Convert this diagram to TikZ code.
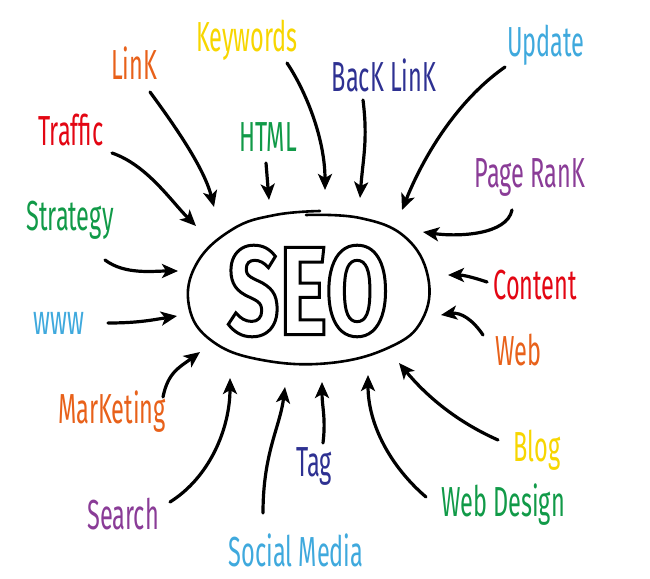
\documentclass[tikz,border=0pt]{standalone}
\usepackage{fontspec}
\usetikzlibrary{arrows.meta,positioning}
\newfontfamily\hand{Fira Sans}[FakeStretch=0.56]
\newfontfamily\seofont{Fira Sans}[FakeStretch=0.72]
\definecolor{seoorange}{HTML}{E8611A}
\definecolor{seoyellow}{HTML}{F7D600}
\definecolor{seonavy}{HTML}{2E3192}
\definecolor{seoblue}{HTML}{3FA9DD}
\definecolor{seored}{HTML}{E30613}
\definecolor{seogreen}{HTML}{119A48}
\definecolor{seopurple}{HTML}{8A3C97}
% hollow letters: stroke the glyph outlines only
\newcommand{\hollow}[1]{\special{pdf:literal direct q 1 Tr 3 w 0 G}#1\special{pdf:literal direct Q}}

\begin{document}
\begin{tikzpicture}[x=1pt,y=-1pt,
    lbl/.style={font=\hand\fontsize{42}{42}\selectfont, inner sep=0pt},
    arr/.style={line width=3.2pt, line cap=round, -{Stealth[length=16pt,width=14pt,inset=4pt]}}]
    \useasboundingbox (0,0) rectangle (650,578);

    % the blob in the middle
    \node (seo) at (308,291) {\seofont\bfseries\fontsize{126}{126}\selectfont\hollow{SEO}};
    \draw[line width=2.6pt, line cap=round] plot[smooth, tension=0.7] coordinates {(306,215) (360,218) (405,237) (428,277) (422,320) (390,347) (330,363) (262,360) (212,341) (189,306) (197,263) (233,229) (275,215) (320,211)};

    % labels
    \node[lbl, text=seoorange] (link) at (134,63) {LinK};
    \node[lbl, text=seoyellow] (keywords) at (247,40) {Keywords};
    \node[lbl, text=seogreen] (html) at (268,137) {HTML};
    \node[lbl, text=seonavy] (backlink) at (384,75) {BacK LinK};
    \node[lbl, text=seoblue] (update) at (546,45) {Update};
    \node[lbl, text=seopurple] (pagerank) at (530,178) {Page RanK};
    \node[lbl, text=seored] (traffic) at (71,130) {Traffic};
    \node[lbl, text=seogreen] (strategy) at (70,220) {Strategy};
    \node[lbl, text=seoblue] (www) at (59,323) {www};
    \node[lbl, text=seoorange] (marketing) at (112,412) {MarKeting};
    \node[lbl, text=seopurple] (search) at (123,514) {Search};
    \node[lbl, text=seoblue] (social) at (296,550) {Social Media};
    \node[lbl, text=seonavy] (tag) at (314,466) {Tag};
    \node[lbl, text=seogreen] (webdesign) at (503,505) {Web Design};
    \node[lbl, text=seoyellow] (blog) at (537,450) {Blog};
    \node[lbl, text=seoorange] (web) at (518,350) {Web};
    \node[lbl, text=seored] (content) at (535,285) {Content};

    % arrow tips around the blob
    \coordinate (h-link) at (214,207);
    \coordinate (h-keywords) at (325,190);
    \coordinate (h-html) at (269,200);
    \coordinate (h-backlink) at (360,198);
    \coordinate (h-update) at (402,210);
    \coordinate (h-pagerank) at (423,232);
    \coordinate (h-traffic) at (196,226);
    \coordinate (h-strategy) at (178,271);
    \coordinate (h-www) at (177,316);
    \coordinate (h-marketing) at (200,352);
    \coordinate (h-search) at (230,378);
    \coordinate (h-social) at (285,387);
    \coordinate (h-tag) at (322,382);
    \coordinate (h-webdesign) at (368,375);
    \coordinate (h-blog) at (399,363);
    \coordinate (h-web) at (441,315);
    \coordinate (h-content) at (448,275);

    \draw[arr] ([shift={(16,29)}]link.center) .. controls +(22,30) and +(-10,-40) .. (h-link);
    \draw[arr] ([shift={(40,23)}]keywords.center) .. controls +(20,30) and +(0,-50) .. (h-keywords);
    \draw[arr] ([shift={(-2,26)}]html.center) -- (h-html);
    \draw[arr] ([shift={(-21,25)}]backlink.center) .. controls +(5,40) and +(3,-40) .. (h-backlink);
    \draw[arr] ([shift={(-41,22)}]update.center) .. controls +(-50,35) and +(20,-50) .. (h-update);
    \draw[arr] ([shift={(-18,32)}]pagerank.center) .. controls +(-5,25) and +(35,5) .. (h-pagerank);
    \draw[arr] ([shift={(41,23)}]traffic.center) .. controls +(35,12) and +(-25,-25) .. (h-traffic);
    \draw[arr] ([shift={(35,40)}]strategy.center) .. controls +(20,15) and +(-25,0) .. (h-strategy);
    \draw[arr] ([shift={(49,0)}]www.center) .. controls +(30,0) and +(-25,4) .. (h-www);
    \draw[arr] ([shift={(51,-15)}]marketing.center) .. controls +(5,-25) and +(-20,15) .. (h-marketing);
    \draw[arr] ([shift={(47,-12)}]search.center) .. controls +(40,-25) and +(0,50) .. (h-search);
    \draw[arr] ([shift={(-33,-37)}]social.center) .. controls +(0,-60) and +(-5,40) .. (h-social);
    \draw[arr] ([shift={(9,-23)}]tag.center) .. controls +(3,-25) and +(0,25) .. (h-tag);
    \draw[arr] ([shift={(-77,-8)}]webdesign.center) .. controls +(-35,-30) and +(0,50) .. (h-webdesign);
    \draw[arr] ([shift={(-39,-10)}]blog.center) .. controls +(-45,-20) and +(25,30) .. (h-blog);
    \draw[arr] ([shift={(-35,-15)}]web.center) .. controls +(-10,-15) and +(20,-3) .. (h-web);
    \draw[arr] ([shift={(-48,-3)}]content.center) .. controls +(-15,-5) and +(15,0) .. (h-content);
\end{tikzpicture}
\end{document}
